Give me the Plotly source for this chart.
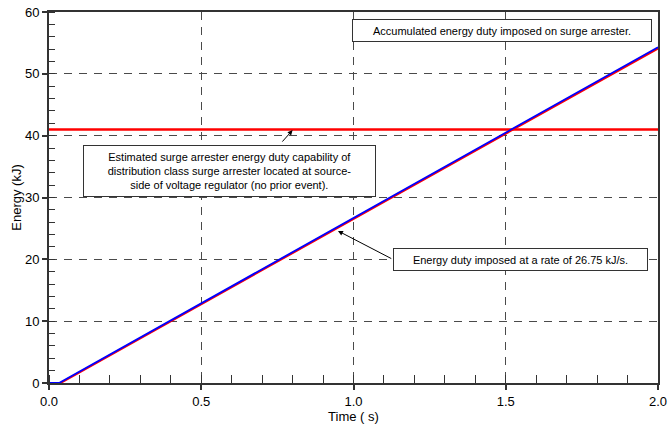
import plotly.graph_objects as go

# Data
t_energy = [0.0, 0.033, 2.0]
e_energy_blue = [0.0, 0.0, 54.3]
t_energy_red = [0.0, 0.038, 2.0]
e_energy_red = [0.0, 0.0, 54.1]
t_cap = [0.0, 2.0]
e_cap = [41.0, 41.0]

x_ticks = [0.0, 0.5, 1.0, 1.5, 2.0]
x_labels = ["0.0", "0.5", "1.0", "1.5", "2.0"]
y_ticks = [0, 10, 20, 30, 40, 50, 60]

fig = go.Figure()
fig.add_trace(go.Scatter(x=t_cap, y=e_cap, mode="lines",
                         line=dict(color="#ff0000", width=2.5), showlegend=False))
fig.add_trace(go.Scatter(x=t_energy_red, y=e_energy_red, mode="lines",
                         line=dict(color="#ff0000", width=2), showlegend=False))
fig.add_trace(go.Scatter(x=t_energy, y=e_energy_blue, mode="lines",
                         line=dict(color="#0000ff", width=1.8), showlegend=False))

font_fam = "Liberation Sans, Arial, sans-serif"
ann_font = dict(family=font_fam, size=11, color="#000000")

annotations = [
    dict(x=1.488, y=57.0, xref="x", yref="y", showarrow=False,
         text="Accumulated energy duty imposed on surge arrester.",
         font=ann_font, bgcolor="white", bordercolor="#333333", borderwidth=1,
         width=296, height=19, borderpad=1),
    dict(x=0.593, y=34.3, xref="x", yref="y", showarrow=False,
         text="Estimated surge arrester energy duty capability of<br>distribution class surge arrester located at source-<br>side of voltage regulator (no prior event).",
         font=ann_font, bgcolor="white", bordercolor="#333333", borderwidth=1,
         width=289, height=48, borderpad=1),
    dict(x=1.548, y=20.0, xref="x", yref="y", showarrow=False,
         text="Energy duty imposed at a rate of 26.75 kJ/s.",
         font=ann_font, bgcolor="white", bordercolor="#333333", borderwidth=1,
         width=251, height=19, borderpad=1),
    # arrows
    dict(x=0.80, y=40.9, xref="x", yref="y", ax=0.762, ay=38.8, axref="x", ayref="y",
         text="", showarrow=True, arrowhead=2, arrowsize=1, arrowwidth=1, arrowcolor="#000000"),
    dict(x=0.949, y=24.6, xref="x", yref="y", ax=1.129, ay=20.0, axref="x", ayref="y",
         text="", showarrow=True, arrowhead=2, arrowsize=1, arrowwidth=1, arrowcolor="#000000"),
]

tick_font = dict(family=font_fam, size=13, color="#000000")

fig.update_layout(
    width=668, height=426,
    margin=dict(l=49, r=10, t=12, b=43),
    paper_bgcolor="white", plot_bgcolor="white",
    annotations=annotations,
    font=dict(family=font_fam, size=13, color="#000000"),
)
fig.update_xaxes(
    range=[0, 2.0], tickvals=x_ticks, ticktext=x_labels, tickfont=tick_font,
    automargin=False,
    showline=True, linecolor="#333333", linewidth=2, mirror=True,
    showgrid=True, gridcolor="#4a4a4a", griddash="8px,7px", gridwidth=1,
    ticks="outside", ticklen=5, tickcolor="#333333", tickwidth=1.5,
    minor=dict(dtick=0.1, ticks="inside", ticklen=8, tickcolor="#333333", tickwidth=1, showgrid=False),
    zeroline=False,
    title=dict(text="Time ( s)", font=dict(family=font_fam, size=13), standoff=0),
)
fig.update_yaxes(
    range=[0, 60], tickvals=y_ticks, tickfont=tick_font,
    automargin=False,
    showline=True, linecolor="#333333", linewidth=2, mirror=True,
    showgrid=True, gridcolor="#4a4a4a", griddash="8px,7px", gridwidth=1,
    ticks="outside", ticklen=5, tickcolor="#333333", tickwidth=1.5,
    minor=dict(dtick=2, ticks="inside", ticklen=6, tickcolor="#333333", tickwidth=1, showgrid=False),
    zeroline=False,
    title=dict(text="Energy (kJ)", font=dict(family=font_fam, size=13), standoff=0),
)

fig.write_html("out.html", config={"displayModeBar": False},
               post_script="document.body.style.margin='0';")
